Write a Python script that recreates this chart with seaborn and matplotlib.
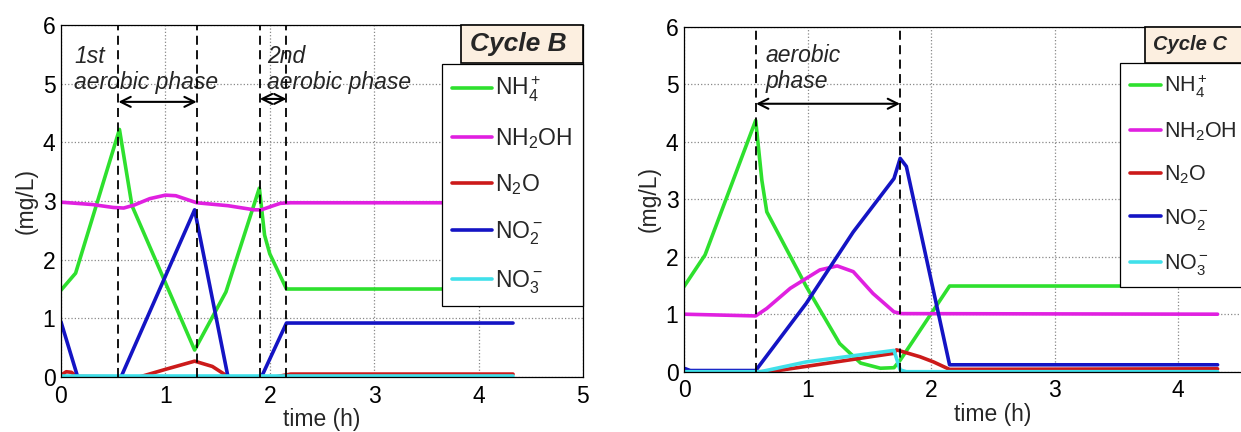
import matplotlib
matplotlib.use("Agg")
import matplotlib.pyplot as plt
from matplotlib.patches import Rectangle
import seaborn as sns

# Cycle B (left panel)
t_nh4_B = [0, 0.14, 0.56, 0.68, 1.28, 1.58, 1.90, 1.95, 2.00, 2.16, 4.33]
nh4_B = [1.48, 1.77, 4.22, 2.92, 0.46, 1.45, 3.22, 2.42, 2.10, 1.50, 1.50]
t_nh2oh_B = [0, 0.3, 0.5, 0.6, 0.7, 0.85, 1.0, 1.1, 1.2, 1.3, 1.6, 1.85, 1.92, 2.0, 2.1, 2.2, 4.33]
nh2oh_B = [2.98, 2.94, 2.89, 2.88, 2.93, 3.04, 3.10, 3.09, 3.03, 2.97, 2.92, 2.85, 2.85, 2.90, 2.96, 2.97, 2.97]
t_n2o_B = [0, 0.05, 0.10, 0.15, 0.75, 1.0, 1.28, 1.45, 1.58, 1.62, 2.05, 2.2, 4.33]
n2o_B = [0.03, 0.09, 0.08, 0.01, 0.0, 0.13, 0.27, 0.18, 0.03, 0.0, 0.0, 0.05, 0.05]
t_no2_B = [0, 0.16, 0.575, 1.28, 1.60, 1.92, 2.16, 4.33]
no2_B = [0.94, 0.0, 0.0, 2.85, 0.0, 0.0, 0.92, 0.92]
t_no3_B = [0, 4.33]
no3_B = [0.01, 0.01]
phases_B = [0.55, 1.30, 1.905, 2.16]
ticks_B = [0, 1, 2, 3, 4, 5]

# Cycle C (right panel)
t_nh4_C = [0, 0.17, 0.58, 0.63, 0.67, 0.99, 1.26, 1.43, 1.59, 1.70, 1.75, 2.15, 4.32]
nh4_C = [1.48, 2.03, 4.37, 3.33, 2.78, 1.48, 0.49, 0.15, 0.06, 0.07, 0.20, 1.49, 1.49]
t_nh2oh_C = [0, 0.58, 0.67, 0.86, 1.10, 1.24, 1.37, 1.53, 1.70, 1.76, 4.32]
nh2oh_C = [1.0, 0.97, 1.10, 1.45, 1.77, 1.84, 1.74, 1.36, 1.04, 1.01, 1.0]
t_n2o_C = [0, 0.70, 1.70, 1.72, 1.91, 2.02, 2.15, 4.32]
n2o_C = [0.0, 0.0, 0.32, 0.38, 0.26, 0.17, 0.04, 0.05]
t_no2_C = [0, 0.05, 0.58, 0.99, 1.37, 1.70, 1.75, 1.80, 2.15, 4.32]
no2_C = [0.06, 0.02, 0.02, 1.19, 2.43, 3.36, 3.71, 3.57, 0.12, 0.12]
t_no3_C = [0, 0.62, 0.99, 1.70, 1.75, 1.80, 4.32]
no3_C = [0.0, 0.0, 0.17, 0.37, 0.03, 0.0, 0.0]
phases_C = [0.583, 1.749]
ticks_C = [0, 1, 2, 3, 4]

labels = [r'NH$_4^+$', r'NH$_2$OH', r'N$_2$O', r'NO$_2^-$', r'NO$_3^-$']
colors = ['#2ee02e', '#e020e0', '#cc1a1a', '#1414c4', '#40e0ea']

sns.set_theme(style="white")
plt.rcParams['font.family'] = ['Liberation Sans', 'DejaVu Sans']
plt.rcParams['mathtext.fontset'] = 'custom'
plt.rcParams['mathtext.rm'] = 'Liberation Sans'
plt.rcParams['mathtext.it'] = 'Liberation Sans:italic'
plt.rcParams['mathtext.bf'] = 'Liberation Sans:bold'

fig = plt.figure(figsize=(12.41, 4.32), dpi=100)
axL = fig.add_axes([0.04915, 0.1273, 0.4206, 0.8148])
axR = fig.add_axes([0.5512, 0.1396, 0.4976, 0.7986])


def draw_panel(ax, series, phases, xticks, arrows, notes, title, title_box, title_fs,
               legend_anchor, legend_loc, legend_fs, legend_sp, handle_len, xpad, xlabelpad):
    for (t, v), lbl, c in zip(series, labels, colors):
        sns.lineplot(x=t, y=v, ax=ax, color=c, lw=2.6, label=lbl, sort=False, estimator=None)
    for p in phases:
        ax.axvline(p, color='black', ls=(0, (5, 3)), lw=1.3, zorder=5)
    for x0, x1, y in arrows:
        ax.annotate('', xy=(x1, y), xytext=(x0, y),
                    arrowprops=dict(arrowstyle='<->', color='black', lw=1.5,
                                    shrinkA=0, shrinkB=0, mutation_scale=18))
    for x, y, s in notes:
        ax.text(x, y, s, fontsize=16.5, style='italic', ha='left', va='top', linespacing=1.15)

    ax.set_xlim(0, 5)
    ax.set_ylim(0, 6)
    ax.set_xticks(xticks)
    ax.set_yticks(range(0, 7))
    ax.grid(True, color='#888888', ls=':', lw=0.9)
    ax.tick_params(direction='in', length=4, labelsize=16.5, colors='black')
    ax.tick_params(axis='x', pad=xpad)
    ax.tick_params(axis='y', pad=4)
    for s in ax.spines.values():
        s.set_color('black')
        s.set_linewidth(0.9)
    ax.set_xlabel('time (h)', fontsize=16.5, labelpad=xlabelpad)
    ax.set_ylabel('(mg/L)', fontsize=16.5, labelpad=4)

    leg = ax.legend(loc=legend_loc, bbox_to_anchor=legend_anchor, fontsize=legend_fs,
                    frameon=True, fancybox=False, framealpha=1, edgecolor='black',
                    borderaxespad=0, labelspacing=legend_sp, handlelength=handle_len,
                    handletextpad=0.15, borderpad=0.45)
    leg.get_frame().set_linewidth(0.9)
    leg.set_zorder(10)

    bx0, by0, bw, bh, tx = title_box
    ax.add_patch(Rectangle((bx0, by0), bw, bh, facecolor='#fcefe0', edgecolor='black',
                           lw=1.2, clip_on=False, zorder=11))
    ax.text(tx, by0 + bh / 2, title, fontsize=title_fs, fontweight='bold', style='italic',
            ha='left', va='center', zorder=12)


draw_panel(axL,
           [(t_nh4_B, nh4_B), (t_nh2oh_B, nh2oh_B), (t_n2o_B, n2o_B), (t_no2_B, no2_B), (t_no3_B, no3_B)],
           phases_B, ticks_B,
           [(0.55, 1.30, 4.69), (1.905, 2.16, 4.74)],
           [(0.125, 5.66, '1st\naerobic phase'), (1.97, 5.66, '2nd\naerobic phase')],
           'Cycle B', (3.83, 5.35, 1.17, 0.65, 3.92), 19,
           (1.0, 5.33 / 6), 'upper right', 16.5, 0.95, 1.75, 6, 0)

draw_panel(axR,
           [(t_nh4_C, nh4_C), (t_nh2oh_C, nh2oh_C), (t_n2o_C, n2o_C), (t_no2_C, no2_C), (t_no3_C, no3_C)],
           phases_C, ticks_C,
           [(0.583, 1.749, 4.66)],
           [(0.66, 5.70, 'aerobic\nphase')],
           'Cycle C', (3.73, 5.37, 1.4, 0.63, 3.80), 14.5,
           (3.53 / 5, 5.37 / 6), 'upper left', 15.5, 0.95, 1.45, 5, 1)

fig.savefig('out.png', dpi=100)
